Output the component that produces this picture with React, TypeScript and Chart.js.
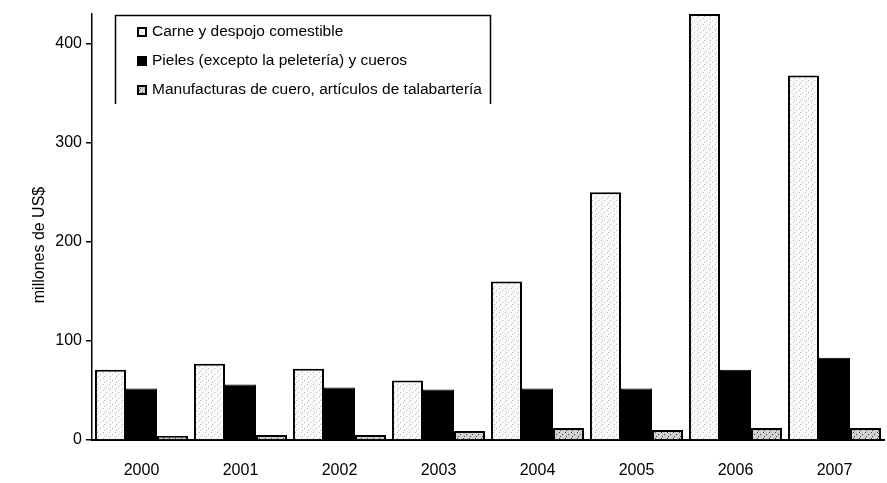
import React, { useEffect, useRef } from "react";
import { Chart, registerables } from "chart.js";

Chart.register(...registerables);

const years = ["2000", "2001", "2002", "2003", "2004", "2005", "2006", "2007"];
const carne = [71, 77, 72, 60, 160, 250, 430, 368];
const pieles = [52, 56, 53, 51, 52, 52, 71, 83];
const manufacturas = [4, 5, 5, 9, 12, 10, 12, 12];
const seriesLabels = [
  "Carne y despojo comestible",
  "Pieles (excepto la peletería) y cueros",
  "Manufacturas de cuero, artículos de talabartería",
];
const yTicks = [0, 100, 200, 300, 400];
const yTitle = "millones de US$";

const FONT = "'Liberation Sans Narrow', 'Arial Narrow', 'Liberation Sans', Arial, sans-serif";

function makePattern(dark: boolean): CanvasPattern | string {
  const c = document.createElement("canvas");
  c.width = 6;
  c.height = 6;
  const g = c.getContext("2d");
  if (!g) return "#eee";
  g.fillStyle = dark ? "#d0d0d0" : "#fafafa";
  g.fillRect(0, 0, 6, 6);
  g.fillStyle = dark ? "#444" : "#b8b8b8";
  g.fillRect(1, 0, 1, 1);
  g.fillRect(4, 2, 1, 1);
  g.fillRect(2, 4, 1, 1);
  const p = g.createPattern(c, "repeat");
  return p || "#eee";
}

const legendPlugin = {
  id: "boxLegend",
  afterDraw(chart: any) {
    const ctx = chart.ctx;
    ctx.save();
    ctx.strokeStyle = "#000";
    ctx.lineWidth = 1.5;
    ctx.fillStyle = "#fff";
    ctx.fillRect(115, 15, 375, 89);
    ctx.beginPath();
    ctx.moveTo(115.5, 104);
    ctx.lineTo(115.5, 15.5);
    ctx.lineTo(490.5, 15.5);
    ctx.lineTo(490.5, 104);
    ctx.stroke();
    const rows = [32, 61, 90];
    chart.data.datasets.forEach((ds: any, i: number) => {
      const y = rows[i];
      ctx.fillStyle = ds.backgroundColor;
      ctx.fillRect(137, y - 5, 10, 10);
      ctx.lineWidth = 2;
      ctx.strokeStyle = "#000";
      ctx.strokeRect(138, y - 4, 8, 8);
      ctx.fillStyle = "#000";
      ctx.font = `15.5px ${FONT}`;
      ctx.textBaseline = "middle";
      ctx.textAlign = "left";
      ctx.fillText(ds.label, 152, y);
    });
    // y axis title
    ctx.translate(40, 245);
    ctx.rotate(-Math.PI / 2);
    ctx.textAlign = "center";
    ctx.textBaseline = "middle";
    ctx.font = `16px ${FONT}`;
    ctx.fillText(yTitle, 0, 0);
    ctx.restore();
  },
};

export default function App() {
  const ref = useRef<HTMLCanvasElement>(null);
  useEffect(() => {
    if (!ref.current) return;
    const light = makePattern(false);
    const third = makePattern(true);
    const chart = new Chart(ref.current, {
      type: "bar",
      data: {
        labels: years,
        datasets: [
          { label: seriesLabels[0], data: carne, backgroundColor: light as any, borderColor: "#000", borderWidth: 2 },
          { label: seriesLabels[1], data: pieles, backgroundColor: "#000", borderColor: "#000", borderWidth: 1 },
          { label: seriesLabels[2], data: manufacturas, backgroundColor: third as any, borderColor: "#000", borderWidth: 2 },
        ],
      },
      options: {
        animation: false,
        responsive: false,
        maintainAspectRatio: false,
        layout: { padding: { left: 0, top: 14, right: 3, bottom: 0 } },
        datasets: { bar: { categoryPercentage: 0.94, barPercentage: 1 } },
        plugins: { legend: { display: false }, tooltip: { enabled: false } },
        scales: {
          x: {
            grid: { display: false },
            border: { display: true, color: "#000", width: 2 },
            ticks: { color: "#000", font: { family: FONT, size: 16 }, padding: 13, maxRotation: 0 },
            afterFit(scale: any) {
              scale.height = 43;
            },
          },
          y: {
            min: 0,
            max: 430,
            afterBuildTicks(scale: any) {
              scale.ticks = yTicks.map((v) => ({ value: v }));
            },
            grid: { display: true, drawOnChartArea: false, drawTicks: true, tickLength: 6, color: "#000", lineWidth: 1.5 },
            border: { display: true, color: "#000", width: 1.5 },
            ticks: { color: "#000", font: { family: FONT, size: 16 }, padding: 4 },
            afterFit(scale: any) {
              scale.width = 92;
            },
          },
        },
      },
      plugins: [legendPlugin],
    });
    return () => chart.destroy();
  }, []);
  return (
    <div style={{ position: "absolute", left: 0, top: 0, width: 887, height: 483, background: "#fff" }}>
      <canvas ref={ref} width={887} height={483} style={{ width: 887, height: 483, display: "block" }} />
    </div>
  );
}
